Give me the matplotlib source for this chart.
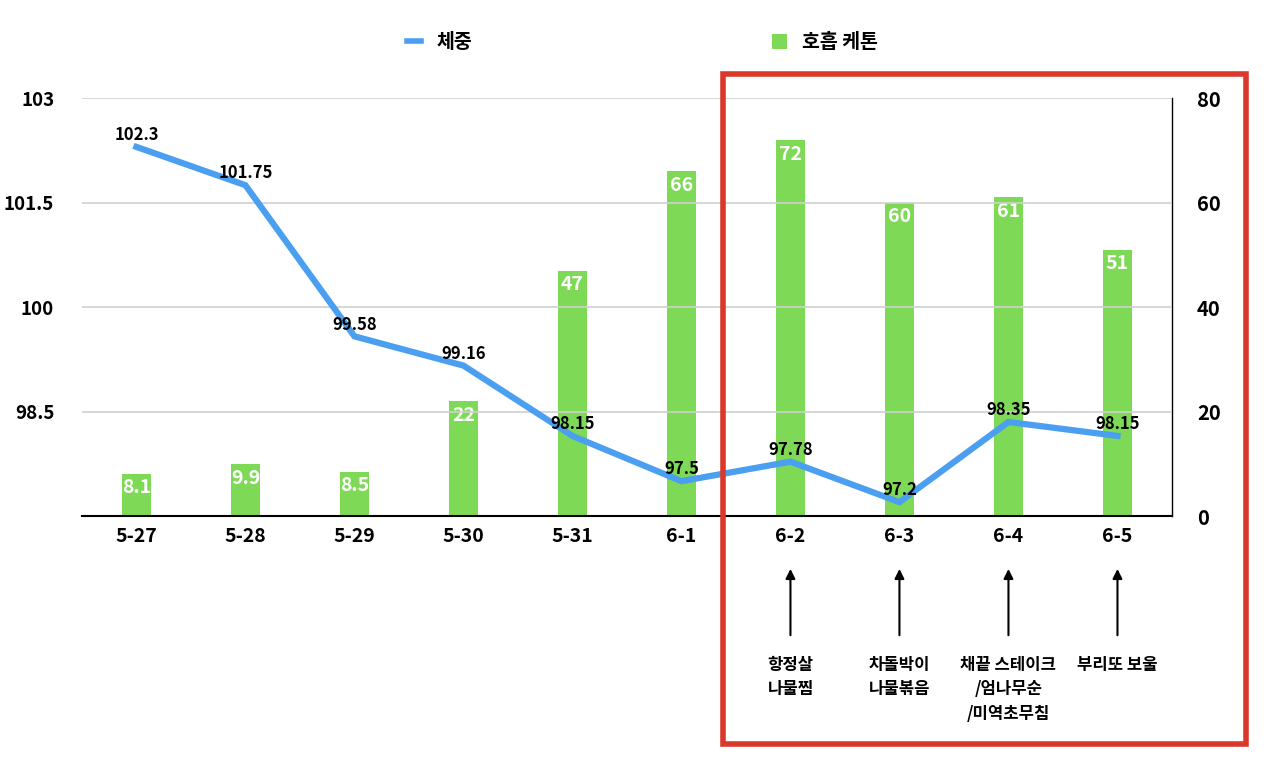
import matplotlib
matplotlib.use("Agg")
import matplotlib.pyplot as plt
from matplotlib.patches import Rectangle
from matplotlib.lines import Line2D
from matplotlib.patches import Patch

plt.rcParams['font.family'] = ['Noto Sans CJK KR', 'DejaVu Sans']

dates = ["5-27", "5-28", "5-29", "5-30", "5-31", "6-1", "6-2", "6-3", "6-4", "6-5"]
weight = [102.3, 101.75, 99.58, 99.16, 98.15, 97.5, 97.78, 97.2, 98.35, 98.15]
ketone = [8.1, 9.9, 8.5, 22, 47, 66, 72, 60, 61, 51]
weight_labels = ["102.3", "101.75", "99.58", "99.16", "98.15", "97.5", "97.78", "97.2", "98.35", "98.15"]
ketone_labels = ["8.1", "9.9", "8.5", "22", "47", "66", "72", "60", "61", "51"]
left_ticks = [98.5, 100, 101.5, 103]
left_tick_labels = ["98.5", "100", "101.5", "103"]
right_ticks = [0, 20, 40, 60, 80]
meal_idx = [6, 7, 8, 9]
meals = ["항정살\n나물찜", "차돌박이\n나물볶음", "채끝 스테이크\n/엄나무순\n/미역초무침", "부리또 보울"]

line_color = "#4A9FF0"
bar_color = "#7ED957"

fig = plt.figure(figsize=(12.8, 7.79), dpi=100)
ax = fig.add_axes([0.064, 0.3376, 0.8516, 0.5364])
ax2 = ax.twinx()

x = list(range(len(dates)))
ax2.bar(x, ketone, width=0.26, color=bar_color, zorder=2)
for xi, v, lab in zip(x, ketone, ketone_labels):
    ax2.text(xi, v - 0.9, lab, ha='center', va='top', color='white',
             fontsize=14, fontweight='bold', zorder=5)
ax2.set_ylim(0, 80)
ax2.set_yticks(right_ticks)
ax2.tick_params(axis='y', length=0, labelsize=14.5, pad=18)
for t in ax2.get_yticklabels():
    t.set_fontweight('bold')

ax.set_zorder(ax2.get_zorder() + 1)
ax.patch.set_visible(False)
ax.plot(x, weight, color=line_color, linewidth=4.5, zorder=4, solid_joinstyle='miter')
for xi, v, lab in zip(x, weight, weight_labels):
    ax.text(xi, v + 0.04, lab, ha='center', va='bottom', color='black',
            fontsize=12, fontweight='bold', zorder=6)
ax.set_ylim(97, 103)
ax.set_yticks(left_ticks)
ax.set_yticklabels(left_tick_labels)
ax.set_xlim(-0.5, len(dates) - 0.5)
ax.set_xticks(x)
ax.set_xticklabels(dates)
ax.tick_params(axis='y', length=0, labelsize=13.5, pad=20)
ax.tick_params(axis='x', length=0, labelsize=14, pad=8)
for t in ax.get_yticklabels() + ax.get_xticklabels():
    t.set_fontweight('bold')
ax.grid(axis='y', color='#D0D0D0', linewidth=1.2, zorder=0)
ax2.grid(False)

for a in (ax, ax2):
    a.spines['top'].set_visible(False)
    a.spines['left'].set_visible(False)
ax.spines['right'].set_visible(False)
ax2.spines['right'].set_color('black')
ax2.spines['right'].set_linewidth(1.0)
ax.spines['bottom'].set_color('black')
ax.spines['bottom'].set_linewidth(1.5)
ax2.spines['bottom'].set_visible(False)

# arrows and meal notes
for i, txt in zip(meal_idx, meals):
    ax.annotate("", xy=(i, -0.12), xycoords=('data', 'axes fraction'),
                xytext=(i, -0.292), textcoords=('data', 'axes fraction'),
                arrowprops=dict(arrowstyle='-|>', color='black', lw=1.5,
                                mutation_scale=14), annotation_clip=False)
    ax.text(i, -0.335, txt, transform=ax.get_xaxis_transform(), ha='center',
            va='top', fontsize=12, fontweight='heavy', linespacing=1.45)

# red highlight box
fig.patches.append(Rectangle((723 / 1280, 1 - 744 / 779), (1246 - 723) / 1280,
                             (744 - 74) / 779, transform=fig.transFigure,
                             fill=False, edgecolor='#D9382A', linewidth=4, zorder=10))

handles = [Line2D([0], [0], color=line_color, linewidth=4),
           Patch(facecolor=bar_color, edgecolor='none')]
leg = fig.legend(handles, ["체중", "호흡 케톤"], loc='center', bbox_to_anchor=(0.502, 0.945),
                 ncol=2, frameon=False, handlelength=0.75, handleheight=0.8,
                 columnspacing=15.4, handletextpad=0.8,
                 prop={'size': 14, 'weight': 'bold'})

fig.savefig("out.png", dpi=100, facecolor='white')
